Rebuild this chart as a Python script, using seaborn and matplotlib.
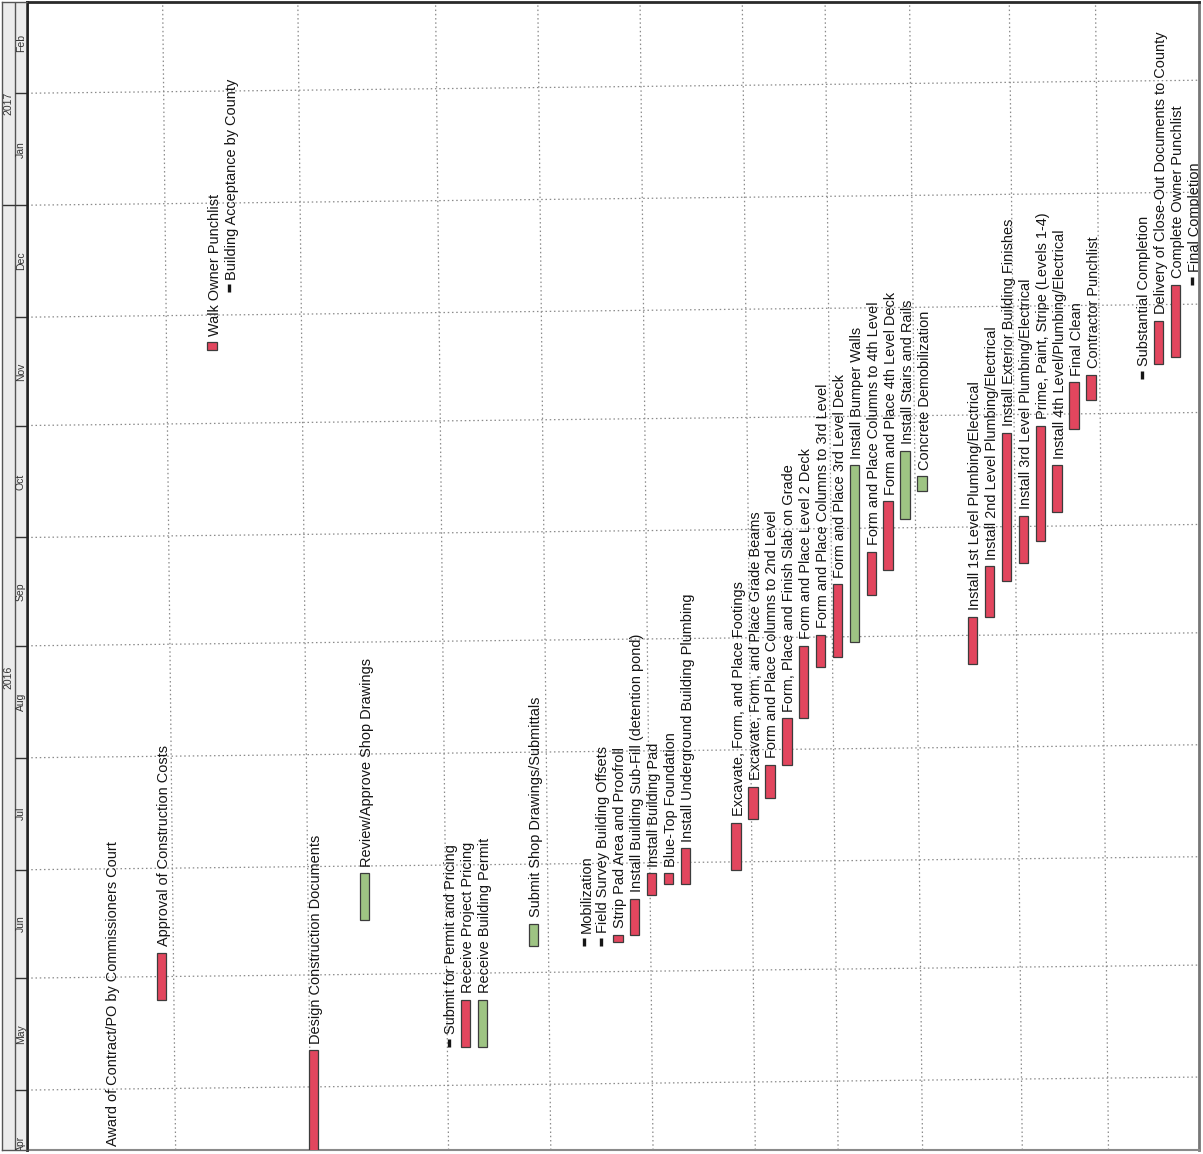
import numpy as np
import pandas as pd
import matplotlib
matplotlib.use("Agg")
import matplotlib.pyplot as plt
import seaborn as sns

# ---------------- data ----------------
BASE = pd.Timestamp("2016-04-01")

bar_tasks = [
    "Approval of Construction Costs",
    "Walk Owner Punchlist",
    "Design Construction Documents",
    "Review/Approve Shop Drawings",
    "Receive Project Pricing",
    "Receive Building Permit",
    "Submit Shop Drawings/Submittals",
    "Strip Pad Area and Proofroll",
    "Install Building Sub-Fill (detention pond)",
    "Install Building Pad",
    "Blue-Top Foundation",
    "Install Underground Building Plumbing",
    "Excavate, Form, and Place Footings",
    "Excavate, Form, and Place Grade Beams",
    "Form and Place Columns to 2nd Level",
    "Form, Place and Finish Slab on Grade",
    "Form and Place Level 2 Deck",
    "Form and Place Columns to 3rd Level",
    "Form and Place 3rd Level Deck",
    "Install Bumper Walls",
    "Form and Place Columns to 4th Level",
    "Form and Place 4th Level Deck",
    "Install Stairs and Rails",
    "Concrete Demobilization",
    "Install 1st Level Plumbing/Electrical",
    "Install 2nd Level Plumbing/Electrical",
    "Install Exterior Building Finishes",
    "Install 3rd Level Plumbing/Electrical",
    "Prime, Paint, Stripe (Levels 1-4)",
    "Install 4th Level/Plumbing/Electrical",
    "Final Clean",
    "Contractor Punchlist",
    "Delivery of Close-Out Documents to County",
    "Complete Owner Punchlist",
]
bar_rows = [3, 6, 12, 15, 21, 22, 25, 30, 31, 32, 33, 34, 37, 38, 39, 40, 41, 42,
            43, 44, 45, 46, 47, 48, 51, 52, 53, 54, 55, 56, 57, 58, 62, 63]
bar_starts = ["2016-05-26", "2016-11-22", "2016-04-01", "2016-06-17", "2016-05-13",
              "2016-05-13", "2016-06-10", "2016-06-11", "2016-06-13", "2016-06-24",
              "2016-06-27", "2016-06-27", "2016-07-01", "2016-07-15", "2016-07-21",
              "2016-07-30", "2016-08-12", "2016-08-26", "2016-08-29", "2016-09-02",
              "2016-09-15", "2016-09-22", "2016-10-06", "2016-10-14", "2016-08-27",
              "2016-09-09", "2016-09-19", "2016-09-24", "2016-09-30", "2016-10-08",
              "2016-10-31", "2016-11-08", "2016-11-18", "2016-11-20"]
bar_ends = ["2016-06-08", "2016-11-24", "2016-05-12", "2016-06-30", "2016-05-26",
            "2016-05-26", "2016-06-16", "2016-06-13", "2016-06-23", "2016-06-30",
            "2016-06-30", "2016-07-07", "2016-07-14", "2016-07-24", "2016-07-30",
            "2016-08-12", "2016-09-01", "2016-09-04", "2016-09-18", "2016-10-21",
            "2016-09-27", "2016-10-11", "2016-10-25", "2016-10-18", "2016-09-09",
            "2016-09-23", "2016-10-30", "2016-10-07", "2016-11-01", "2016-10-21",
            "2016-11-13", "2016-11-15", "2016-11-30", "2016-12-10"]
bar_groups = ["red", "red", "red", "green", "red", "green", "green", "red", "red",
              "red", "red", "red", "red", "red", "red", "red", "red", "red", "red",
              "green", "red", "red", "green", "green", "red", "red", "red", "red",
              "red", "red", "red", "red", "red", "red"]

milestone_tasks = [
    "Award of Contract/PO by Commissioners Court",
    "Building Acceptance by County",
    "Submit for Permit and Pricing",
    "Mobilization",
    "Field Survey Building Offsets",
    "Substantial Completion",
    "Final Completion",
]
milestone_rows = [0, 7, 20, 28, 29, 61, 64]
milestone_dates = ["2016-04-13", "2016-12-09", "2016-05-14", "2016-06-11",
                   "2016-06-11", "2016-11-15", "2016-12-11"]

month_labels = ["Apr", "May", "Jun", "Jul", "Aug", "Sep", "Oct", "Nov", "Dec",
                "Jan", "Feb"]
year_labels = ["2016", "2017"]

# ---------------- helpers ----------------
def day(s):
    return (pd.Timestamp(s) - BASE).days

bars = pd.DataFrame({
    "task": bar_tasks, "row": bar_rows,
    "start": [day(s) for s in bar_starts],
    "end": [day(e) for e in bar_ends],
    "group": bar_groups,
})
bars["dur"] = bars["end"] - bars["start"]
miles = pd.DataFrame({"task": milestone_tasks, "row": milestone_rows,
                      "d": [day(d) for d in milestone_dates]})

month_starts = pd.date_range("2016-04-01", "2017-03-01", freq="MS")
month_d = [(m - BASE).days for m in month_starts]
year_d = day("2017-01-01")

# ---------------- style ----------------
sns.set_theme(style="white")
plt.rcParams["font.family"] = ["Liberation Sans", "DejaVu Sans"]

W, H = 1203, 1154
fig = plt.figure(figsize=(W / 100, H / 100), dpi=100)
fig.patch.set_facecolor("white")

y0, y1 = 13.4, 331.4          # visible day range
x0, x1 = -4.96, 64.39         # visible row range
bot = 4 / H
top = 1 - 1.5 / H
PX_DAY = (top - bot) * H / (y1 - y0)
PX_ROW = (1199 - 27) / (x1 - x0)
TILT_PX = 13                  # slight skew of the scanned sheet

ax = fig.add_axes([27 / W, bot, (1199 - 27) / W, top - bot])
tax = fig.add_axes([2 / W, bot, 25 / W, top - bot])

palette = {"red": "#e2465e", "green": "#9ec483"}
for grp, col in palette.items():
    sub = bars[bars["group"] == grp].sort_values("row")
    sns.barplot(data=sub, x="row", y="dur", native_scale=True, orient="x",
                bottom=sub["start"].to_numpy(), width=0.56, color=col,
                saturation=1, edgecolor="#3c3c3c", linewidth=0.9,
                errorbar=None, ax=ax, zorder=3)

# milestones: short vertical black ticks
ax.vlines(miles["row"], miles["d"] - 1.15, miles["d"] + 1.15,
          colors="#161616", linewidth=2.4, zorder=4)

label_kw = dict(rotation=90, ha="center", va="bottom", fontsize=10.45,
                color="#151515", clip_on=True, zorder=5)
for _, r in bars.iterrows():
    ax.text(r["row"] + 0.15, r["end"] + 1.8, r["task"], **label_kw)
for _, r in miles.iterrows():
    ax.text(r["row"] + 0.15, r["d"] + 2.4, r["task"], **label_kw)

# dotted grid (drawn with the slight skew of the scanned original)
grid_kw = dict(linestyle=(0, (1.2, 2.2)), color="#8a8a8a", linewidth=0.9,
               zorder=1)
grid_rows = [3.45, 11.45, 19.6, 25.65, 31.7, 37.75, 42.65, 47.65, 53.55, 58.65]
dt = TILT_PX / PX_DAY
dr = TILT_PX / PX_ROW
for d in month_d[1:-1]:
    ax.plot([x0, x1], [d, d + dt], **grid_kw)
for r in grid_rows:
    ax.plot([r + dr / 2, r - dr / 2], [y0, y1], **grid_kw)

ax.set_xlim(x0, x1)
ax.set_ylim(y0, y1)
ax.set_xticks([])
ax.set_yticks([])
ax.grid(False)
ax.set_xlabel("")
ax.set_ylabel("")
ax.set_facecolor("white")
for side, (c, lw) in {"top": ("#2a2a2a", 2.0), "right": ("#777777", 2.0),
                      "bottom": ("#8a8a8a", 1.5), "left": ("#222222", 1.8)}.items():
    ax.spines[side].set_visible(True)
    ax.spines[side].set_color(c)
    ax.spines[side].set_linewidth(lw)

# ---------------- timescale ----------------
tax.set_xlim(0, 2)
tax.set_ylim(y0, y1)
tax.set_facecolor("#ececec")
tax.axvline(1, color="#555555", lw=1.0)
tax.hlines(month_d, 1, 2, color="#333333", lw=1.0)
tax.hlines([year_d], 0, 1, color="#333333", lw=1.0)
for i, lab in enumerate(month_labels):
    mid = (month_d[i] + month_d[i + 1]) / 2
    tax.text(1.5, mid, lab, rotation=90, ha="center", va="center",
             fontsize=7.5, color="#333333", clip_on=True)
tax.text(0.5, (y0 + year_d) / 2, year_labels[0], rotation=90, ha="center",
         va="center", fontsize=7.5, color="#333333")
tax.text(0.5, (year_d + y1) / 2, year_labels[1], rotation=90, ha="center",
         va="center", fontsize=7.5, color="#333333")
tax.set_xticks([])
tax.set_yticks([])
for side in ["top", "bottom", "left", "right"]:
    tax.spines[side].set_visible(True)
    tax.spines[side].set_color("#555555")
    tax.spines[side].set_linewidth(1.0)
tax.spines["right"].set_color("#222222")
tax.spines["right"].set_linewidth(1.8)

fig.savefig("out.png", dpi=100, facecolor="white")
